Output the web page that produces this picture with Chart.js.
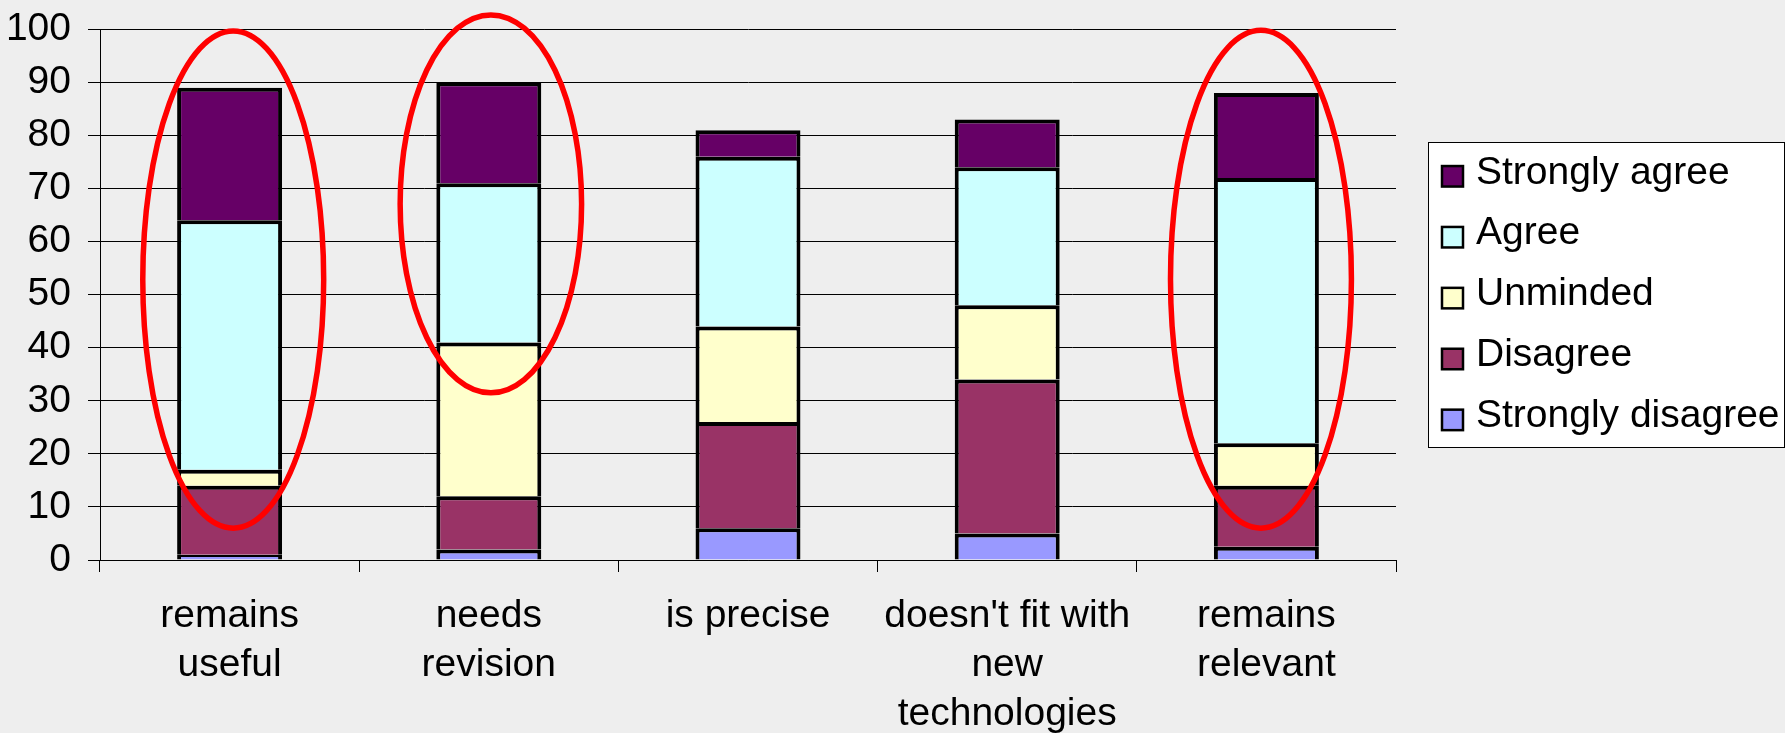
<!DOCTYPE html>
<html><head><meta charset="utf-8">
<script src="https://cdn.jsdelivr.net/npm/chart.js@4"></script>
<style>
html,body{margin:0;padding:0;background:#eeeeee;}
#wrap{width:1785px;height:733px;position:relative;overflow:hidden;}
canvas{display:block;}
</style>
</head><body>
<div id="wrap"><canvas id="c" width="1785" height="733"></canvas></div>
<script>
// ---- data ----
const categories = [["remains", "useful"], ["needs", "revision"], "is precise", ["doesn't fit with", "new", "technologies"], ["remains", "relevant"]];
const seriesNames = ["Strongly disagree", "Disagree", "Unminded", "Agree", "Strongly agree"];
const stronglyDisagree = [1, 2, 6, 5, 2.5];
const disagree = [13, 10, 20, 29, 11.5];
const unminded = [3, 29, 18, 14, 8];
const agree = [47, 30, 32, 26, 50];
const stronglyAgree = [25, 19, 5, 9, 16];
const yMin = 0, yMax = 100, yStep = 10;
// highlight ellipses (category index, value range)
const highlightCategories = [0, 1, 4];
const highlightLow = [6, 31.5, 6];
const highlightHigh = [99.7, 102.7, 99.8];

const seriesValues = [stronglyDisagree, disagree, unminded, agree, stronglyAgree];
const seriesColors = ["#9999ff", "#993366", "#ffffcc", "#ccffff", "#660066"];
const FONT = '"Liberation Sans", Arial, Helvetica, sans-serif';
const ellipseShift = [0.014, 0.008, -0.021];
const ellipseRx = [0.349, 0.35, 0.349];

const bgPlugin = {
  id: 'bg',
  beforeDraw(chart) {
    const ctx = chart.ctx;
    ctx.save();
    ctx.fillStyle = '#eeeeee';
    ctx.fillRect(0, 0, chart.width, chart.height);
    ctx.restore();
  }
};

const ellipsePlugin = {
  id: 'ellipses',
  afterDatasetsDraw(chart) {
    const ctx = chart.ctx, xs = chart.scales.x, ys = chart.scales.y;
    const cw = xs.getPixelForValue(1) - xs.getPixelForValue(0);
    ctx.save();
    ctx.strokeStyle = '#ff0000';
    ctx.lineWidth = 5.5;
    highlightCategories.forEach((c, i) => {
      const cx = xs.getPixelForValue(c) + ellipseShift[i] * cw;
      const top = ys.getPixelForValue(highlightHigh[i]);
      const bot = ys.getPixelForValue(highlightLow[i]);
      ctx.beginPath();
      ctx.ellipse(cx, (top + bot) / 2, ellipseRx[i] * cw, (bot - top) / 2, 0, 0, Math.PI * 2);
      ctx.stroke();
    });
    ctx.restore();
  }
};

const legendPlugin = {
  id: 'boxLegend',
  afterDraw(chart) {
    const ctx = chart.ctx;
    const left = Math.round(chart.chartArea.right + 32) + 0.5;
    const top = 142.5;
    const w = chart.width - left - 0.5;
    const h = 305;
    ctx.save();
    ctx.fillStyle = '#ffffff';
    ctx.fillRect(left, top, w, h);
    ctx.strokeStyle = '#000000';
    ctx.lineWidth = 1;
    ctx.strokeRect(left, top, w, h);
    const items = chart.data.datasets.slice().reverse();
    const rowH = 60.9;
    const firstY = 176.3;
    ctx.font = '39px ' + FONT;
    ctx.textBaseline = 'middle';
    ctx.textAlign = 'left';
    items.forEach((ds, i) => {
      const cy = firstY + i * rowH;
      const sx = left + 13.5, sw = 21, sh = 20.5;
      ctx.fillStyle = ds.backgroundColor;
      ctx.fillRect(sx, cy - sh / 2, sw, sh);
      ctx.lineWidth = 2.5;
      ctx.strokeStyle = '#000';
      ctx.strokeRect(sx, cy - sh / 2, sw, sh);
      ctx.fillStyle = '#000';
      ctx.fillText(ds.label, left + 47.5, cy - 3.5);
    });
    ctx.restore();
  }
};

new Chart(document.getElementById('c'), {
  type: 'bar',
  data: {
    labels: categories,
    datasets: seriesNames.map((n, i) => ({
      label: n,
      data: seriesValues[i],
      backgroundColor: seriesColors[i],
      borderColor: '#000000',
      borderWidth: 4,
      inflateAmount: 0,
      categoryPercentage: 1.0,
      barPercentage: 0.405
    }))
  },
  options: {
    responsive: false,
    devicePixelRatio: 1,
    animation: false,
    layout: { padding: { top: 29.3, right: 389, bottom: 0, left: 0 } },
    plugins: { legend: { display: false }, tooltip: { enabled: false } },
    scales: {
      x: {
        stacked: true,
        afterFit(s) { s.height = 173; s.paddingLeft = 0; s.paddingRight = 0; },
        grid: { offset: true, drawOnChartArea: false, drawTicks: true, tickLength: 12, color: '#000', lineWidth: 1 },
        border: { display: true, color: '#000', width: 1 },
        ticks: { color: '#000', font: { family: FONT, size: 39, lineHeight: 1.25 }, padding: 20, maxRotation: 0, autoSkip: false }
      },
      y: {
        stacked: true,
        min: yMin, max: yMax,
        afterFit(s) { s.width = 100; s.paddingTop = 0; s.paddingBottom = 0; },
        grid: { color: '#000', lineWidth: 1, tickLength: 12, drawTicks: true },
        border: { display: true, color: '#000', width: 1 },
        ticks: { stepSize: yStep, color: '#000', font: { family: FONT, size: 39 }, padding: 17 }
      }
    }
  },
  plugins: [bgPlugin, ellipsePlugin, legendPlugin]
});
</script>
</body></html>
